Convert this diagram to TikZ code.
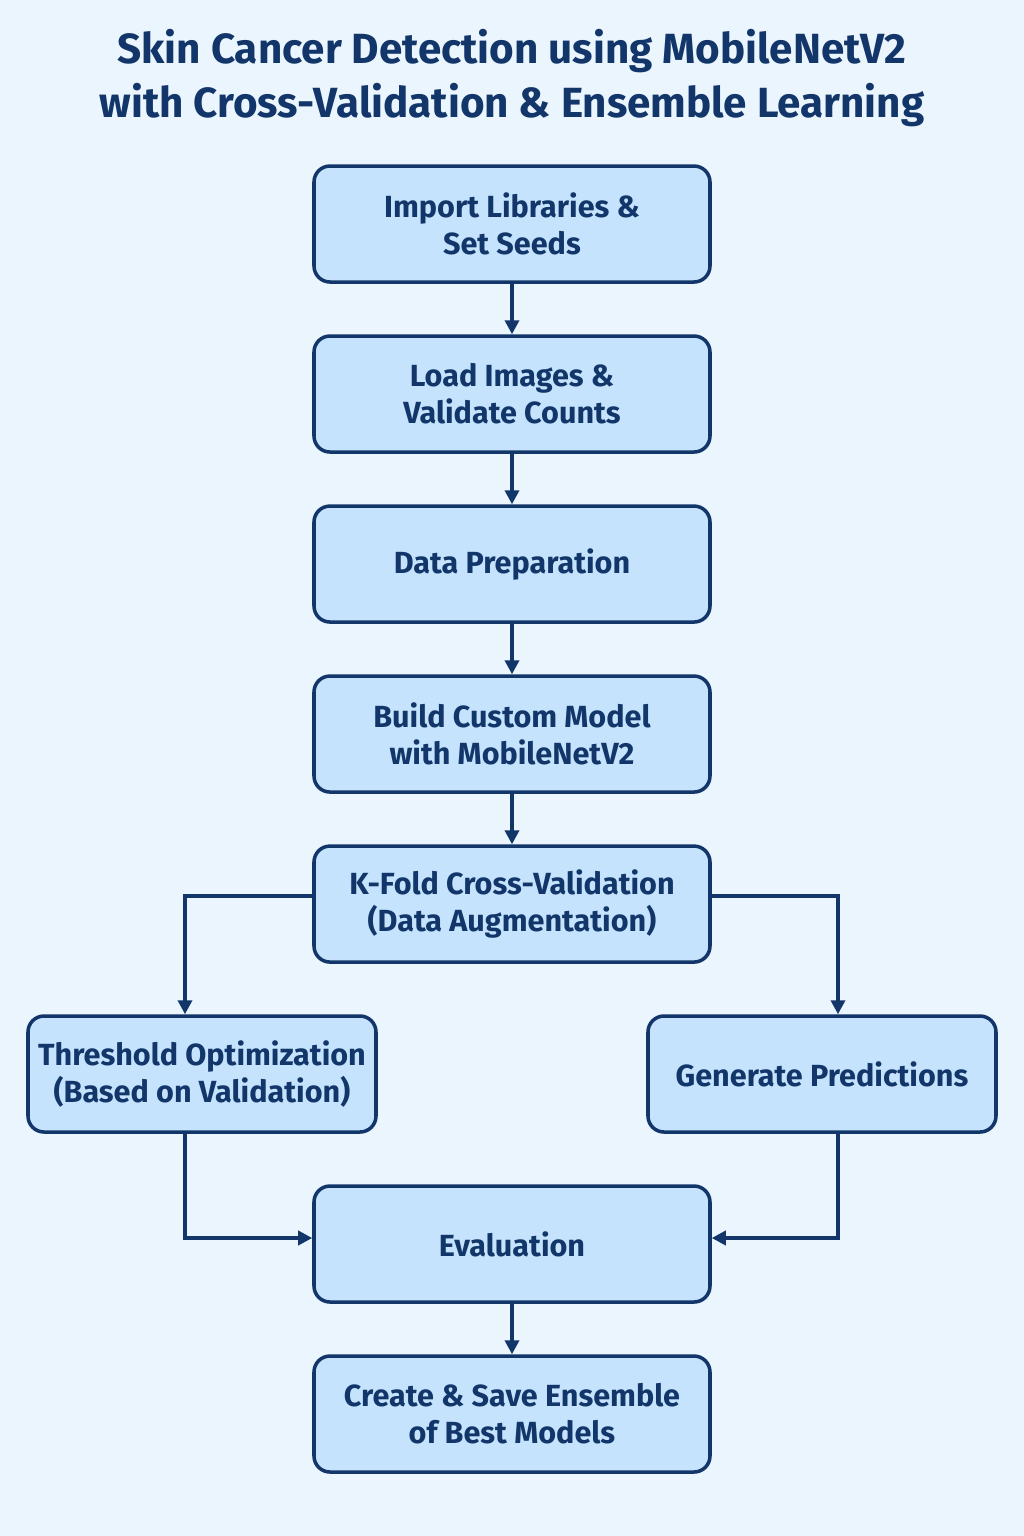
\documentclass[tikz,border=0pt]{standalone}
\usepackage{fontspec}
\setmainfont{Fira Sans}
\usetikzlibrary{positioning,arrows.meta}
\definecolor{navy}{HTML}{12366A}
\definecolor{boxblue}{HTML}{C5E3FC}
\definecolor{bgblue}{HTML}{EBF5FE}

\begin{document}
\begin{tikzpicture}[x=0.1mm,y=-0.1mm,node distance=5.05mm]
   \tikzset{stage/.style={draw=navy,fill=boxblue,line width=1pt,rounded corners=1.6mm,
      minimum width=39.6mm,minimum height=11.6mm,align=center,text=navy,
      font=\fontsize{8.7}{10.5}\selectfont\bfseries}}
   \tikzset{side/.style={stage,minimum width=34.8mm,inner xsep=0pt}}
   \tikzset{flow/.style={draw=navy,line width=1pt,-{Triangle[length=1.4mm,width=1.4mm]}}}
   \fill[bgblue] (0,0) rectangle (1024,1536);
   \useasboundingbox (0,0) rectangle (1024,1536);
   \node[text=navy,align=center,font=\fontsize{12}{15.6}\selectfont\bfseries] (title) at (512,78)
      {Skin Cancer Detection using MobileNetV2\\with Cross-Validation \& Ensemble Learning};
   \node[stage] (libs) at (512,224) {Import Libraries \&\\Set Seeds};
   \node[stage,below=of libs] (load) {Load Images \&\\Validate Counts};
   \node[stage,below=of load] (prep) {Data Preparation};
   \node[stage,below=of prep] (model) {Build Custom Model\\with MobileNetV2};
   \node[stage,below=of model] (kfold) {K-Fold Cross-Validation\\(Data Augmentation)};
   \node[side] (thresh) at (202,1074) {Threshold Optimization\\(Based on Validation)};
   \node[side] (preds) at (822,1074) {Generate Predictions};
   \node[stage] (eval) at (512,1244) {Evaluation};
   \node[stage,below=of eval] (ens) {Create \& Save Ensemble\\of Best Models};
   \draw[flow] (libs) -- (load);
   \draw[flow] (load) -- (prep);
   \draw[flow] (prep) -- (model);
   \draw[flow] (model) -- (kfold);
   \draw[flow] ([yshift=0.8mm]kfold.west) -| ([xshift=-1.7mm]thresh.north);
   \draw[flow] ([yshift=0.8mm]kfold.east) -| ([xshift=1.6mm]preds.north);
   \draw[flow] ([xshift=-1.7mm]thresh.south) |- ([yshift=0.6mm]eval.west);
   \draw[flow] ([xshift=1.6mm]preds.south) |- ([yshift=0.6mm]eval.east);
   \draw[flow] (eval) -- (ens);
\end{tikzpicture}
\end{document}
